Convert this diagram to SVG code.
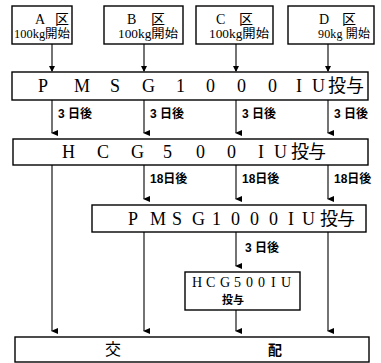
<svg xmlns="http://www.w3.org/2000/svg" width="381" height="363" viewBox="0 0 381 363">
<defs>
<marker id="ah" markerWidth="6" markerHeight="7" refX="3" refY="6" orient="auto-start-reverse" markerUnits="userSpaceOnUse" viewBox="0 0 6 7">
<path d="M0,0 L6,0 L3,7 z" fill="#000"/>
</marker>
<style>
.box{fill:#fff;stroke:#000;stroke-width:1.4}
.ln{stroke:#000;stroke-width:1.1;fill:none}
.t{font-family:"Liberation Serif","Noto Sans CJK JP",serif;fill:#000}
.j{font-family:"Noto Sans CJK JP","Liberation Sans",sans-serif;fill:#000;font-weight:bold}
.k{font-family:"Noto Sans CJK JP","Liberation Sans",sans-serif;fill:#000;font-weight:normal}
.lb{font-family:"Liberation Sans Narrow","Liberation Sans","Noto Sans CJK JP",sans-serif;font-size:12px;fill:#000;font-weight:bold}
</style>
</defs>
<rect width="381" height="363" fill="#fff"/>
<g id="connectors">
<line class="ln" x1="52" y1="44" x2="52" y2="71"/>
<line class="ln" x1="144" y1="44" x2="144" y2="71"/>
<line class="ln" x1="236" y1="44" x2="236" y2="71"/>
<line class="ln" x1="328" y1="44" x2="328" y2="71"/>
<line class="ln" x1="52" y1="100" x2="52" y2="133" marker-end="url(#ah)"/>
<line class="ln" x1="144" y1="100" x2="144" y2="133" marker-end="url(#ah)"/>
<line class="ln" x1="236" y1="100" x2="236" y2="133" marker-end="url(#ah)"/>
<line class="ln" x1="328" y1="100" x2="328" y2="133" marker-end="url(#ah)"/>
<line class="ln" x1="52" y1="165" x2="52" y2="331" marker-end="url(#ah)"/>
<line class="ln" x1="144" y1="165" x2="144" y2="199" marker-end="url(#ah)"/>
<line class="ln" x1="236" y1="165" x2="236" y2="199" marker-end="url(#ah)"/>
<line class="ln" x1="328" y1="165" x2="328" y2="199" marker-end="url(#ah)"/>
<line class="ln" x1="144" y1="232" x2="144" y2="331" marker-end="url(#ah)"/>
<line class="ln" x1="236" y1="232" x2="236" y2="266" marker-end="url(#ah)"/>
<line class="ln" x1="328" y1="232" x2="328" y2="331" marker-end="url(#ah)"/>
<line class="ln" x1="236" y1="310" x2="236" y2="331" marker-end="url(#ah)"/>
<path d="M49,66 L55,66 L52,72 z M141,66 L147,66 L144,72 z M233,66 L239,66 L236,72 z M325,66 L331,66 L328,72 z" fill="#000"/>
<text class="lb" x="58" y="118">3 日後</text>
<text class="lb" x="150" y="118">3 日後</text>
<text class="lb" x="242" y="118">3 日後</text>
<text class="lb" x="334" y="118">3 日後</text>
<text class="lb" x="150" y="183">18日後</text>
<text class="lb" x="242" y="183">18日後</text>
<text class="lb" x="334" y="183">18日後</text>
<text class="lb" x="245" y="252">3 日後</text>
</g>
<g id="nodeA">
<rect class="box" x="12" y="6" width="60" height="38"/>
<text class="t" font-size="14" x="35" y="24">A</text>
<text class="k" font-size="14" x="55" y="24">区</text>
<text class="t" font-size="12" x="14" y="38" textLength="56" lengthAdjust="spacingAndGlyphs">100kg開始</text>
</g>
<g id="nodeB">
<rect class="box" x="104" y="6" width="79" height="38"/>
<text class="t" font-size="14" x="127" y="24">B</text>
<text class="k" font-size="14" x="151" y="24">区</text>
<text class="t" font-size="12" x="118" y="38" textLength="60" lengthAdjust="spacingAndGlyphs">100kg開始</text>
</g>
<g id="nodeC">
<rect class="box" x="196" y="6" width="77" height="38"/>
<text class="t" font-size="14" x="216" y="24">C</text>
<text class="k" font-size="14" x="239" y="24">区</text>
<text class="t" font-size="12" x="209" y="38" textLength="60" lengthAdjust="spacingAndGlyphs">100kg開始</text>
</g>
<g id="nodeD">
<rect class="box" x="288" y="6" width="86" height="38"/>
<text class="t" font-size="14" x="319" y="24">D</text>
<text class="k" font-size="14" x="342" y="24">区</text>
<text class="t" font-size="12" x="318" y="38" textLength="52" lengthAdjust="spacing">90kg 開始</text>
</g>
<g id="pmsg1">
<rect class="box" x="12" y="72" width="356" height="28"/>
<text class="t" font-size="18" y="92" x="38 74 110 142 176 206 237 268 296 312 328 346">PMSG1000IU投与</text>
</g>
<g id="hcg1">
<rect class="box" x="13" y="139" width="355" height="26"/>
<text class="t" font-size="18" y="158" x="62 97 131 163 196 227 258 274 291 308">HCG500IU投与</text>
</g>
<g id="pmsg2">
<rect class="box" x="92" y="205" width="274" height="27"/>
<text class="t" font-size="18" y="225" x="128 150 172 192 212 231 250 269 288 302 320 337">PMSG1000IU投与</text>
</g>
<g id="hcg2">
<rect class="box" x="185" y="272" width="115" height="38"/>
<text class="t" font-size="14" y="287" x="192 206 220 234 246 258 271 281">HCG500IU</text>
<text class="j" font-size="11" x="233" y="304" text-anchor="middle">投与</text>
</g>
<g id="mating">
<rect class="box" x="15" y="337" width="354" height="25"/>
<text class="t" font-size="16" x="113" y="355" text-anchor="middle">交</text>
<text class="j" font-size="14" x="275" y="355" text-anchor="middle">配</text>
</g>
</svg>
